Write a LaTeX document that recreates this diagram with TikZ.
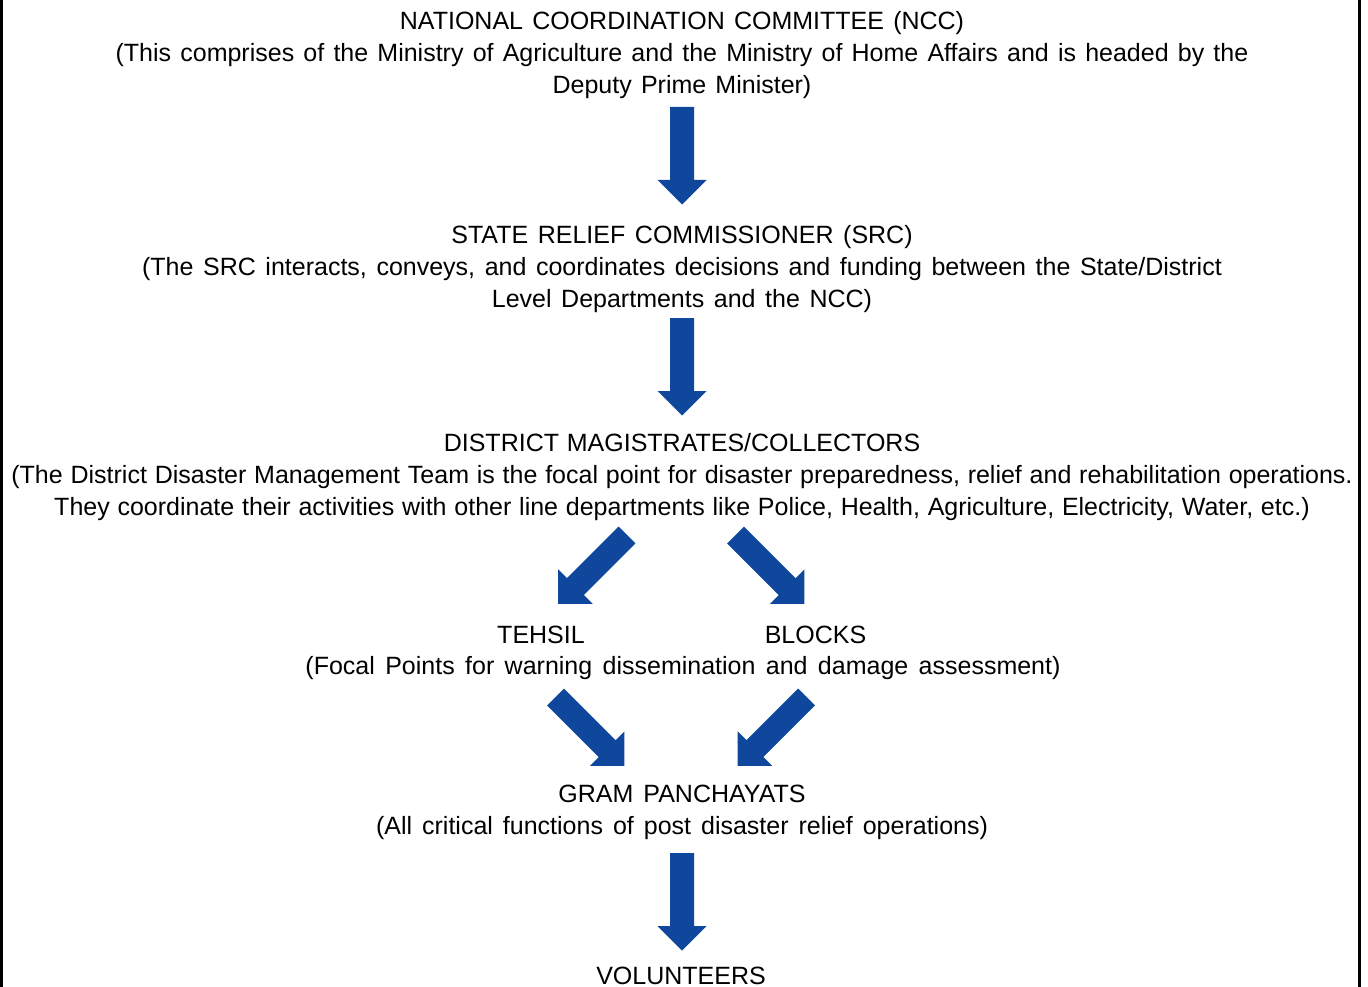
\documentclass[tikz,border=0pt]{standalone}
\usepackage{fontspec}
\setmainfont{Liberation Sans}
\usepackage{tikz}

\definecolor{arrowblue}{RGB}{14,71,156}
\newlength{\wordgap}

\tikzset{
  level/.style={align=center, inner sep=0pt, font=\fontsize{25}{32}\selectfont,
    execute at begin node={\setlength{\wordgap}{#1}\spaceskip=\wordgap\relax}},
  level/.default=7pt,
  fatarrow/.pic={
    \fill[arrowblue] (-12,0) -- (-12,-73) -- (-24.5,-73) -- (0,-97.5)
      -- (24.5,-73) -- (12,-73) -- (12,0) -- cycle;
  }
}

\begin{document}
\begin{tikzpicture}[x=1pt,y=1pt]
\useasboundingbox (0,0) rectangle (1368,-987);

% frame
\draw[line width=3pt] (1.5,0) -- (1.5,-987);
\draw[line width=3pt] (1359.5,0) -- (1359.5,-987);

% levels
\node[level=9.2pt] (ncc) at (682,-55) {NATIONAL COORDINATION COMMITTEE (NCC)\\
(This comprises of the Ministry of Agriculture and the Ministry of Home Affairs and is headed by the\\
Deputy Prime Minister)};
\node[level=9.6pt] (src) at (682,-269) {STATE RELIEF COMMISSIONER (SRC)\\
(The SRC interacts, conveys, and coordinates decisions and funding between the State/District\\
Level Departments and the NCC)};
\node[level=7.8pt] (dm) at (682,-477) {DISTRICT MAGISTRATES/COLLECTORS\\
(The District Disaster Management Team is the focal point for disaster preparedness, relief and rehabilitation operations.\\
They coordinate their activities with other line departments like Police, Health, Agriculture, Electricity, Water, etc.)};
\node[level] (tehsil) at (541,-635) {TEHSIL};
\node[level] (blocks) at (815.5,-635) {BLOCKS};
\node[level=10.4pt] (focal) at (683,-668) {(Focal Points for warning dissemination and damage assessment)};
\node[level=10pt] (gram) at (682,-812) {GRAM PANCHAYATS\\
(All critical functions of post disaster relief operations)};
\node[level] (vol) at (681,-976) {VOLUNTEERS};

% arrows
\pic at (682,-107) {fatarrow};
\pic at (682,-318) {fatarrow};
\pic[rotate=-45] at (627,-535) {fatarrow};
\pic[rotate=45] at (735.5,-535) {fatarrow};
\pic[rotate=45] at (555.5,-697) {fatarrow};
\pic[rotate=-45] at (806.5,-697) {fatarrow};
\pic at (682,-853) {fatarrow};

\end{tikzpicture}
\end{document}
